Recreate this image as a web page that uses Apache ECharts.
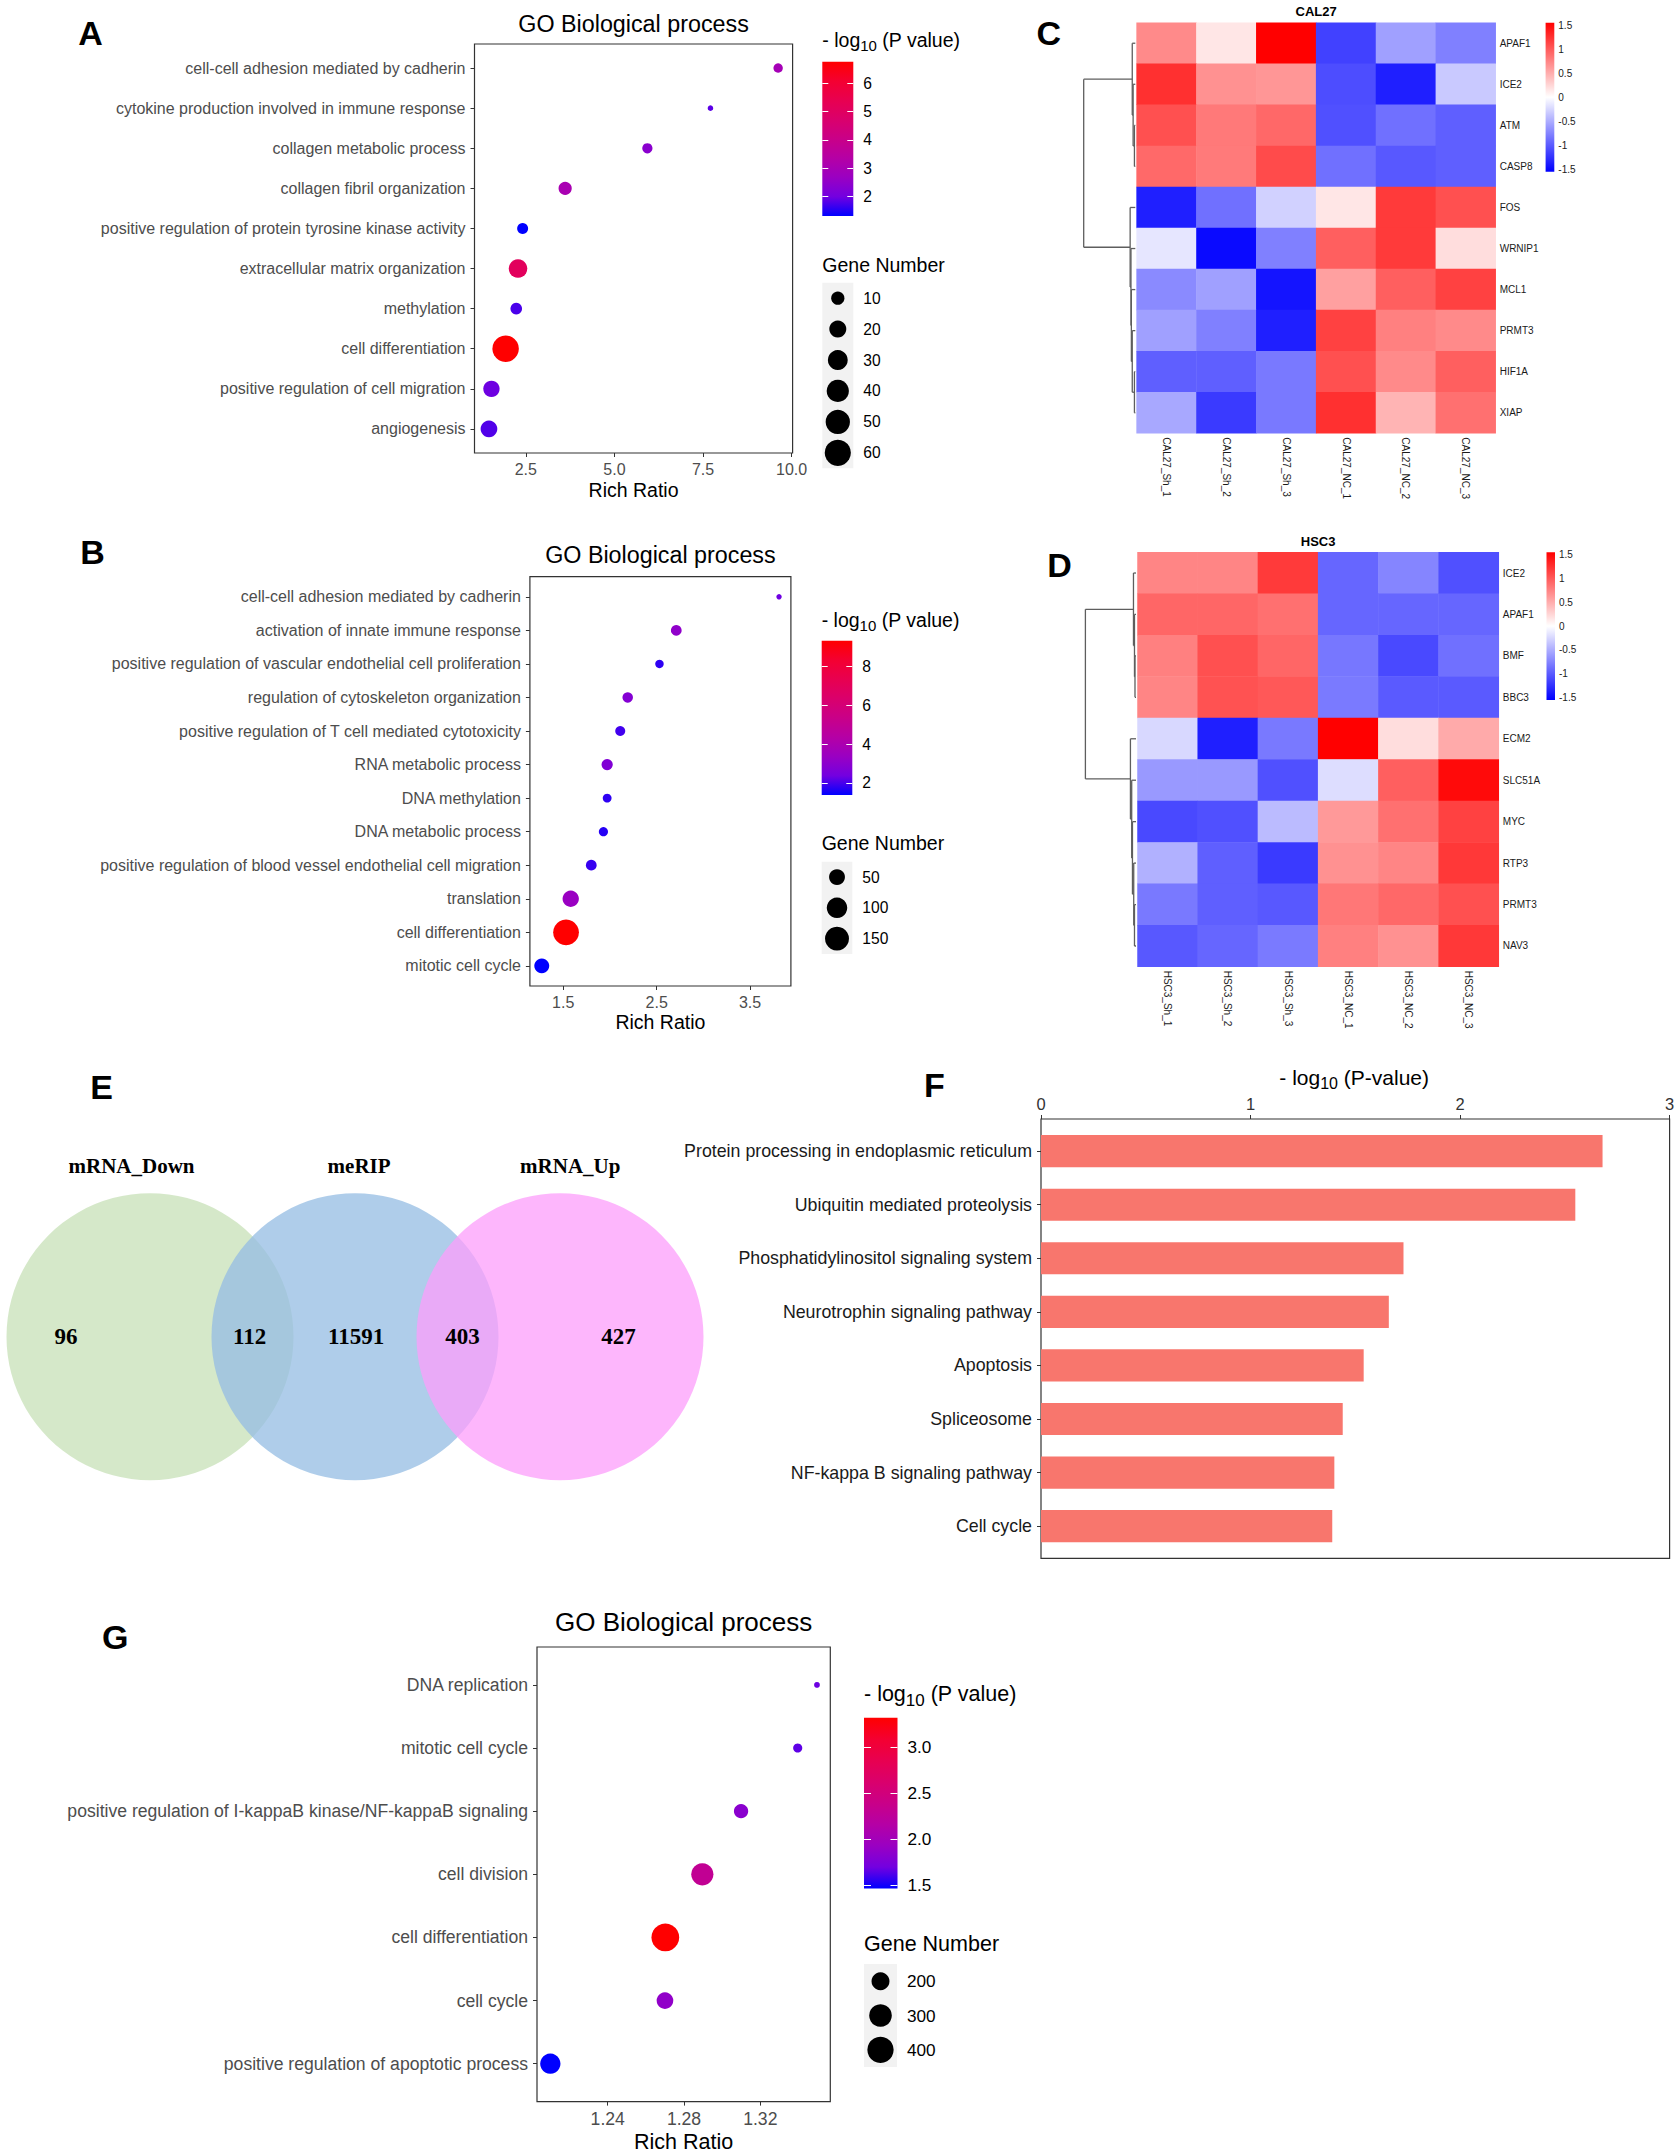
<!DOCTYPE html>
<html>
<head>
<meta charset="utf-8">
<title>GO / KEGG / heatmap figure</title>
<script src="https://cdn.jsdelivr.net/npm/echarts@6.0.0/dist/echarts.min.js"></script>
<style>
html,body{margin:0;padding:0;background:#ffffff;}
#chart{width:1680px;height:2156px;}
</style>
</head>
<body>
<div id="chart"></div>
<script>
// ================= DATA =================
// Panel A – GO Biological process
const aTerms = ['cell-cell adhesion mediated by cadherin','cytokine production involved in immune response','collagen metabolic process','collagen fibril organization','positive regulation of protein tyrosine kinase activity','extracellular matrix organization','methylation','cell differentiation','positive regulation of cell migration','angiogenesis'];
const aRichRatio = [9.62, 7.71, 5.93, 3.61, 2.41, 2.28, 2.23, 1.93, 1.53, 1.46];
const aLogP = [2.95, 1.86, 2.40, 3.06, 1.32, 5.10, 1.76, 6.76, 1.97, 1.80];
const aGeneNumber = [4, 2, 5, 10, 6, 25, 7, 62, 18, 19];
const aRatioTicks = [2.5, 5.0, 7.5, 10.0];
const aLogPTicks = [2, 3, 4, 5, 6];
const aGeneBreaks = [10, 20, 30, 40, 50, 60];

// Panel B – GO Biological process
const bTerms = ['cell-cell adhesion mediated by cadherin','activation of innate immune response','positive regulation of vascular endothelial cell proliferation','regulation of cytoskeleton organization','positive regulation of T cell mediated cytotoxicity','RNA metabolic process','DNA methylation','DNA metabolic process','positive regulation of blood vessel endothelial cell migration','translation','cell differentiation','mitotic cell cycle'];
const bRichRatio = [3.81, 2.71, 2.53, 2.19, 2.11, 1.97, 1.97, 1.93, 1.80, 1.58, 1.53, 1.27];
const bLogP = [2.33, 3.10, 1.77, 2.80, 1.93, 2.72, 1.77, 1.69, 1.85, 3.36, 9.34, 1.37];
const bGeneNumber = [3, 15, 7, 14, 12, 17, 8, 9, 15, 54, 180, 42];
const bRatioTicks = [1.5, 2.5, 3.5];
const bLogPTicks = [2, 4, 6, 8];
const bGeneBreaks = [50, 100, 150];

// Panel G – GO Biological process
const gTerms = ['DNA replication','mitotic cell cycle','positive regulation of I-kappaB kinase/NF-kappaB signaling','cell division','cell differentiation','cell cycle','positive regulation of apoptotic process'];
const gRichRatio = [1.3497, 1.3396, 1.3099, 1.2896, 1.2702, 1.2700, 1.2099];
const gLogP = [1.68, 1.65, 1.83, 2.30, 3.32, 1.87, 1.46];
const gGeneNumber = [91, 99, 144, 289, 446, 177, 246];
const gRatioTicks = [1.24, 1.28, 1.32];
const gLogPTicks = [1.5, 2.0, 2.5, 3.0];
const gGeneBreaks = [200, 300, 400];

// Panel C – CAL27 heatmap (row z-scores)
const cal27Genes = ['APAF1','ICE2','ATM','CASP8','FOS','WRNIP1','MCL1','PRMT3','HIF1A','XIAP'];
const cal27Samples = ['CAL27_Sh_1','CAL27_Sh_2','CAL27_Sh_3','CAL27_NC_1','CAL27_NC_2','CAL27_NC_3'];
const cal27Z = [
  [ 0.69,  0.15,  1.50, -1.12, -0.56, -0.75],
  [ 1.22,  0.65,  0.62, -1.05, -1.32, -0.32],
  [ 1.03,  0.79,  0.89, -1.03, -0.84, -0.94],
  [ 0.88,  0.78,  1.06, -0.84, -0.98, -0.94],
  [-1.32, -0.84, -0.27,  0.15,  1.16,  1.03],
  [-0.15, -1.44, -0.75,  0.94,  1.16,  0.20],
  [-0.69, -0.56, -1.38,  0.56,  0.94,  1.12],
  [-0.56, -0.75, -1.32,  1.12,  0.75,  0.69],
  [-0.94, -0.94, -0.79,  1.03,  0.69,  0.94],
  [-0.51, -1.16, -0.79,  1.22,  0.44,  0.84]
];
// hclust-style merges: negative = leaf (row), positive = earlier merge; third = height
const cal27Merges = [[-3,-4,0.017],[-2,1,0.042],[-1,2,0.059],[-9,-10,0.017],[-8,4,0.059],[-7,5,0.076],[-6,6,0.084],[-5,7,0.10],[3,8,1.0]];

// Panel D – HSC3 heatmap
const hsc3Genes = ['ICE2','APAF1','BMF','BBC3','ECM2','SLC51A','MYC','RTP3','PRMT3','NAV3'];
const hsc3Samples = ['HSC3_Sh_1','HSC3_Sh_2','HSC3_Sh_3','HSC3_NC_1','HSC3_NC_2','HSC3_NC_3'];
const hsc3Z = [
  [ 0.72,  0.72,  1.16, -0.90, -0.72, -1.03],
  [ 0.90,  0.90,  0.84, -0.90, -0.90, -0.90],
  [ 0.75,  1.03,  0.90, -0.80, -1.07, -0.84],
  [ 0.72,  1.02,  0.98, -0.78, -0.97, -0.97],
  [-0.23, -1.32, -0.79,  1.50,  0.20,  0.50],
  [-0.60, -0.60, -1.03, -0.20,  0.94,  1.44],
  [-1.07, -1.03, -0.40,  0.60,  0.84,  1.12],
  [-0.46, -0.94, -1.16,  0.65,  0.72,  1.17],
  [-0.79, -0.94, -0.98,  0.80,  0.89,  1.03],
  [-0.98, -0.90, -0.78,  0.75,  0.65,  1.17]
];
const hsc3Merges = [[-3,-4,0.02],[-2,1,0.03],[-1,2,0.05],[-9,-10,0.03],[-8,4,0.045],[-7,5,0.07],[-6,6,0.085],[-5,7,0.11],[3,8,1.0]];
const heatLegendTicks = [1.5, 1, 0.5, 0, -0.5, -1, -1.5];

// Panel E – Venn
const vennSets = ['mRNA_Down','meRIP','mRNA_Up'];
const vennRegions = ['mRNA_Down only','mRNA_Down & meRIP','meRIP only','meRIP & mRNA_Up','mRNA_Up only'];
const vennCounts = [96, 112, 11591, 403, 427];

// Panel F – KEGG
const fPathways = ['Protein processing in endoplasmic reticulum','Ubiquitin mediated proteolysis','Phosphatidylinositol signaling system','Neurotrophin signaling pathway','Apoptosis','Spliceosome','NF-kappa B signaling pathway','Cell cycle'];
const fLogP = [2.68, 2.55, 1.73, 1.66, 1.54, 1.44, 1.40, 1.39];
const fTicks = [0, 1, 2, 3];

// ================= STYLE / LAYOUT =================
const FONT = '"Liberation Sans", Arial, Helvetica, sans-serif';
const SERIF = '"Liberation Serif", "Times New Roman", serif';
const GG = ['#0000FF','#7300E0','#9A00C2','#B500A5','#C90088','#DA006C','#E80050','#F40031','#FF0000'];
const HEAT = ['#0000FF','#FFFFFF','#FF0000'];
const VENN = {
  cx: [0, 1, 2], r: 0.7,
  labelX: [-0.09, 1.02, 2.05], labelY: 0.833,
  countX: [-0.41, 0.486, 1.005, 1.524, 2.285],
  fill: ['rgba(199,224,183,0.75)','rgba(148,188,227,0.75)','rgba(252,158,251,0.75)']
};

const grids = [], xAxes = [], yAxes = [], series = [], visualMaps = [], graphics = [];
function addGrid(g){ grids.push(Object.assign({show:false, containLabel:false, outerBoundsMode:'none', borderWidth:0}, g)); return grids.length-1; }
function addX(a){ xAxes.push(a); return xAxes.length-1; }
function addY(a){ yAxes.push(a); return yAxes.length-1; }
function txt(x, y, t, fs, opt){
  graphics.push({type:'text', x:x, y:y, silent:true, z:100,
    style:Object.assign({text:t, fontSize:fs, fontFamily:FONT, fontWeight:'normal', fill:'#000', align:'center', verticalAlign:'middle'}, opt||{})});
}
function logTitle(x, y, fs, inner, align){
  graphics.push({type:'text', x:x, y:y, silent:true, z:100,
    style:{text:'{a|- log}{s|10}{a| (' + inner + ')}', align:align, verticalAlign:'middle',
      rich:{
        a:{fontSize:fs, fontFamily:FONT, fill:'#000', lineHeight:Math.round(fs*1.33), verticalAlign:'middle'},
        s:{fontSize:Math.round(fs*0.77), fontFamily:FONT, fill:'#000', lineHeight:Math.round(fs*0.77), verticalAlign:'bottom'}
      }}});
}
function gradV(colorsTopToBottom){
  return {type:'linear', x:0, y:0, x2:0, y2:1,
    colorStops: colorsTopToBottom.map((c,k,arr)=>({offset:k/(arr.length-1), color:c}))};
}
const noLine = {show:false, onZero:false};

// ---------- dot plot builder ----------
function dotPlot(o){
  const n = o.terms.length;
  const gi = addGrid({left:o.box[0], top:o.box[1], width:o.box[2]-o.box[0], height:o.box[3]-o.box[1],
    show:true, borderColor:'#333333', borderWidth:1.2, backgroundColor:'rgba(0,0,0,0)'});
  const lo = Math.min(...o.ratio), hi = Math.max(...o.ratio), pad = (hi-lo)*0.05;
  const xi = addX({type:'value', gridIndex:gi, position:'bottom', min:lo-pad, max:hi+pad, axisLine:noLine, splitLine:{show:false},
    axisTick:{show:true, length:4, lineStyle:{color:'#333333', width:1}, customValues:o.xTicks},
    axisLabel:{customValues:o.xTicks, formatter:v=>Number(v).toFixed(o.xDec), color:'#4D4D4D', fontSize:o.fs, fontFamily:FONT, margin:8}});
  const idx = o.terms.map((_,i)=>i);
  const yi = addY({type:'value', gridIndex:gi, position:'left', min:-0.6, max:n-0.4, inverse:true, axisLine:noLine, splitLine:{show:false},
    axisTick:{show:true, length:4, lineStyle:{color:'#333333', width:1}, customValues:idx},
    axisLabel:{customValues:idx, formatter:v=>o.terms[Math.round(v)], color:'#4D4D4D', fontSize:o.fs, fontFamily:FONT, margin:9}});
  const gMin = Math.min(...o.genes), gMax = Math.max(...o.genes);
  const size = g => o.s*(3.79 + 14.225*Math.sqrt(Math.max(0,(g-gMin)/(gMax-gMin))));
  const pMin = Math.min(...o.logP), pMax = Math.max(...o.logP);
  series.push({type:'scatter', xAxisIndex:xi, yAxisIndex:yi, silent:true, z:3,
    data:o.terms.map((t,i)=>[o.ratio[i], i, o.logP[i], o.genes[i]]),
    symbol:'circle', symbolSize:v=>size(v[3]), itemStyle:{opacity:1}});
  visualMaps.push({type:'continuous', show:false, seriesIndex:series.length-1, dimension:2, min:pMin, max:pMax, inRange:{color:GG}});

  // titles
  txt((o.box[0]+o.box[2])/2, o.titleY, 'GO Biological process', o.tfs);
  txt((o.box[0]+o.box[2])/2, o.xTitleY, 'Rich Ratio', o.afs);

  // colour bar
  const cb = o.cbar;
  const cgi = addGrid({left:cb[0], top:cb[1], width:cb[2], height:cb[3], show:true, borderWidth:0,
    backgroundColor:gradV(GG.slice().reverse())});
  addX({type:'value', gridIndex:cgi, min:0, max:1, show:false, axisLine:noLine});
  addY({type:'value', gridIndex:cgi, min:pMin, max:pMax, position:'right', axisLine:noLine, splitLine:{show:false},
    axisTick:{show:true, inside:true, length:Math.round(cb[2]*0.2), lineStyle:{color:'#FFFFFF', width:1}, customValues:o.pTicks},
    axisLabel:{customValues:o.pTicks, formatter:v=>Number(v).toFixed(o.pDec), color:'#000', fontSize:o.lfs, fontFamily:FONT, margin:10}});
  addY({type:'value', gridIndex:cgi, min:pMin, max:pMax, position:'left', axisLine:noLine, splitLine:{show:false},
    axisTick:{show:true, inside:true, length:Math.round(cb[2]*0.2), lineStyle:{color:'#FFFFFF', width:1}, customValues:o.pTicks},
    axisLabel:{show:false}});
  logTitle(cb[0], o.ltY[0], o.ltfs, 'P value', 'left');

  // size legend
  const sl = o.sleg;
  const sgi = addGrid({left:sl[0], top:sl[1], width:sl[2], height:sl[3], show:true, borderWidth:0, backgroundColor:'#F2F2F2'});
  const sxi = addX({type:'value', gridIndex:sgi, min:-1, max:1, show:false, axisLine:noLine});
  const syi = addY({type:'category', gridIndex:sgi, data:o.breaks.map(String), inverse:true, position:'right',
    axisLine:noLine, axisTick:{show:false}, splitLine:{show:false},
    axisLabel:{interval:0, color:'#000', fontSize:o.lfs, fontFamily:FONT, margin:10}});
  series.push({type:'scatter', xAxisIndex:sxi, yAxisIndex:syi, silent:true,
    data:o.breaks.map((b,i)=>[0, i, b]), symbol:'circle', symbolSize:v=>size(v[2]), itemStyle:{color:'#000', opacity:1}});
  txt(sl[0], o.ltY[1], 'Gene Number', o.ltfs, {align:'left'});
}

dotPlot({terms:aTerms, ratio:aRichRatio, logP:aLogP, genes:aGeneNumber, xTicks:aRatioTicks, xDec:1, pTicks:aLogPTicks, pDec:0, breaks:aGeneBreaks,
  box:[474.5, 44, 792.6, 453], titleY:23.5, xTitleY:490, fs:16, tfs:23.3, afs:19.5, lfs:15.6, ltfs:19.5, s:1.47,
  cbar:[822.3, 61.7, 31, 154.3], sleg:[822.3, 282.7, 31, 185.6], ltY:[40, 265]});
dotPlot({terms:bTerms, ratio:bRichRatio, logP:bLogP, genes:bGeneNumber, xTicks:bRatioTicks, xDec:1, pTicks:bLogPTicks, pDec:0, breaks:bGeneBreaks,
  box:[529.9, 576.7, 790.9, 986], titleY:555, xTitleY:1021.7, fs:16, tfs:23.3, afs:19.5, lfs:15.6, ltfs:19.5, s:1.43,
  cbar:[821.7, 640.7, 30.6, 154.3], sleg:[821.7, 861.7, 30.6, 92.3], ltY:[620, 843.3]});
dotPlot({terms:gTerms, ratio:gRichRatio, logP:gLogP, genes:gGeneNumber, xTicks:gRatioTicks, xDec:2, pTicks:gLogPTicks, pDec:1, breaks:gGeneBreaks,
  box:[537, 1647, 830.3, 2101.6], titleY:1622, xTitleY:2142, fs:17.6, tfs:26, afs:21.5, lfs:17.2, ltfs:21.5, s:1.54,
  cbar:[864, 1717.7, 33.5, 170.8], sleg:[864, 1964, 33, 103], ltY:[1694, 1943.6]});

// ---------- heatmap builder ----------
function dendroSegs(merges){
  const nodes = [], segs = [];
  const get = r => r < 0 ? {y:-r-1+0.5, h:0} : nodes[r-1];
  merges.forEach(m => {
    const A = get(m[0]), B = get(m[1]), h = m[2];
    segs.push([A.h, A.y, h, A.y], [B.h, B.y, h, B.y], [h, A.y, h, B.y]);
    nodes.push({y:(A.y+B.y)/2, h:h});
  });
  return segs;
}
function heatmapPanel(o){
  const gi = addGrid({left:o.box[0], top:o.box[1], width:o.box[2]-o.box[0], height:o.box[3]-o.box[1]});
  const xi = addX({type:'category', gridIndex:gi, data:o.samples, position:'bottom', axisLine:noLine, axisTick:{show:false}, splitLine:{show:false},
    axisLabel:{interval:0, rotate:-90, fontSize:10, fontFamily:FONT, color:'#1A1A1A', margin:4}});
  const yi = addY({type:'category', gridIndex:gi, data:o.genes, inverse:true, position:'right', axisLine:noLine, axisTick:{show:false}, splitLine:{show:false},
    axisLabel:{interval:0, fontSize:10, fontFamily:FONT, color:'#1A1A1A', margin:4}});
  const data = [];
  o.z.forEach((row, r) => row.forEach((v, c) => data.push([c, r, v])));
  series.push({type:'heatmap', xAxisIndex:xi, yAxisIndex:yi, data:data, silent:true, emphasis:{disabled:true}, itemStyle:{borderWidth:0}});
  visualMaps.push({type:'continuous', show:false, seriesIndex:series.length-1, dimension:2, min:-1.5, max:1.5, inRange:{color:HEAT}});

  // dendrogram
  const dgi = addGrid({left:o.dbox[0], top:o.box[1], width:o.dbox[1]-o.dbox[0], height:o.box[3]-o.box[1]});
  const rootH = Math.max(...o.merges.map(m=>m[2]));
  const dxi = addX({type:'value', gridIndex:dgi, min:0, max:rootH, inverse:true, show:false, axisLine:noLine});
  const dyi = addY({type:'value', gridIndex:dgi, min:0, max:o.genes.length, inverse:true, show:false, axisLine:noLine});
  series.push({type:'custom', xAxisIndex:dxi, yAxisIndex:dyi, silent:true, clip:false, encode:{x:[0,2], y:[1,3]},
    data:dendroSegs(o.merges),
    renderItem:(p, api) => {
      const p1 = api.coord([api.value(0), api.value(1)]), p2 = api.coord([api.value(2), api.value(3)]);
      return {type:'line', shape:{x1:p1[0], y1:p1[1], x2:p2[0], y2:p2[1]}, style:{stroke:'#5E5E5E', lineWidth:1.3}};
    }});

  // colour legend
  const cb = o.cbar;
  const cgi = addGrid({left:cb[0], top:cb[1], width:cb[2], height:cb[3], show:true, borderWidth:0, backgroundColor:gradV(HEAT.slice().reverse())});
  addX({type:'value', gridIndex:cgi, min:0, max:1, show:false, axisLine:noLine});
  addY({type:'value', gridIndex:cgi, min:-1.55, max:1.55, position:'right', axisLine:noLine, splitLine:{show:false}, axisTick:{show:false},
    axisLabel:{customValues:heatLegendTicks, fontSize:10, fontFamily:FONT, color:'#1A1A1A', margin:4}});

  txt((o.box[0]+o.box[2])/2, o.titleY, o.title, 13, {fontWeight:'bold'});
}
heatmapPanel({title:'CAL27', genes:cal27Genes, samples:cal27Samples, z:cal27Z, merges:cal27Merges,
  box:[1136.6, 22.7, 1495.7, 433.3], dbox:[1083.7, 1135.3], cbar:[1545.6, 22.7, 8.7, 149], titleY:11});
heatmapPanel({title:'HSC3', genes:hsc3Genes, samples:hsc3Samples, z:hsc3Z, merges:hsc3Merges,
  box:[1137.5, 552.3, 1498.8, 966.7], dbox:[1085.4, 1136], cbar:[1546.5, 552.3, 8.5, 147.7], titleY:541});

// ---------- Venn (E) ----------
(function(){
  const vgi = addGrid({left:6.5, top:1131.7, width:717.5, height:410});
  const vxi = addX({type:'value', gridIndex:vgi, min:-0.7, max:2.8, show:false, axisLine:noLine});
  const vyi = addY({type:'value', gridIndex:vgi, min:-1, max:1, show:false, axisLine:noLine});
  series.push({type:'custom', xAxisIndex:vxi, yAxisIndex:vyi, silent:true, clip:false, z:2,
    data:vennSets.map((s,i)=>[VENN.cx[i], 0, i]),
    renderItem:(p, api) => {
      const c = api.coord([api.value(0), api.value(1)]);
      const r = Math.abs(api.size([VENN.r, 0])[0]);
      return {type:'circle', shape:{cx:c[0], cy:c[1], r:r}, style:{fill:VENN.fill[api.value(2)]}};
    }});
  series.push({type:'custom', xAxisIndex:vxi, yAxisIndex:vyi, silent:true, clip:false, z:4,
    data:vennSets.map((s,i)=>[VENN.labelX[i], VENN.labelY, i]),
    renderItem:(p, api) => {
      const c = api.coord([api.value(0), api.value(1)]);
      return {type:'text', x:c[0], y:c[1], style:{text:vennSets[api.value(2)], fontSize:21, fontFamily:SERIF, fontWeight:'bold', fill:'#000', align:'center', verticalAlign:'middle'}};
    }});
  series.push({type:'custom', xAxisIndex:vxi, yAxisIndex:vyi, silent:true, clip:false, z:4,
    data:vennCounts.map((c,i)=>[VENN.countX[i], 0, c]),
    renderItem:(p, api) => {
      const c = api.coord([api.value(0), api.value(1)]);
      return {type:'text', x:c[0], y:c[1], style:{text:String(api.value(2)), fontSize:23, fontFamily:SERIF, fontWeight:'bold', fill:'#000', align:'center', verticalAlign:'middle'}};
    }});
})();

// ---------- KEGG bars (F) ----------
(function(){
  const fgi = addGrid({left:1041, top:1119, width:628.6, height:439.3, show:true, borderColor:'#333333', borderWidth:1.2, backgroundColor:'rgba(0,0,0,0)'});
  const fxi = addX({type:'value', gridIndex:fgi, position:'top', min:0, max:3, interval:1, axisLine:noLine, splitLine:{show:false},
    axisTick:{show:true, length:4, lineStyle:{color:'#333333', width:1}, customValues:fTicks},
    axisLabel:{customValues:fTicks, fontSize:16.5, fontFamily:FONT, color:'#333333', margin:7}});
  const idx = fPathways.map((_,i)=>i);
  const fyi = addY({type:'value', gridIndex:fgi, position:'left', min:-0.6, max:fPathways.length-0.4, inverse:true, axisLine:noLine, splitLine:{show:false},
    axisTick:{show:true, length:4, lineStyle:{color:'#333333', width:1}, customValues:idx},
    axisLabel:{customValues:idx, formatter:v=>fPathways[Math.round(v)], fontSize:17.8, fontFamily:FONT, color:'#1A1A1A', margin:9}});
  series.push({type:'custom', xAxisIndex:fxi, yAxisIndex:fyi, silent:true, encode:{x:0, y:1},
    data:fLogP.map((v,i)=>[v, i]),
    renderItem:(p, api) => {
      const a = api.coord([0, api.value(1)]), b = api.coord([api.value(0), api.value(1)]);
      const h = Math.abs(api.size([0, 0.6])[1]);
      return {type:'rect', shape:{x:a[0], y:a[1]-h/2, width:b[0]-a[0], height:h}, style:{fill:'#F8766D'}};
    }});
  logTitle(1354.2, 1077.3, 21, 'P-value', 'center');
})();

// ---------- panel letters ----------
[['A',90.5,32.5],['B',92.5,551.7],['C',1048.8,33.3],['D',1059.6,564.5],['E',101.5,1086.7],['F',934.5,1085],['G',115.3,1637]]
  .forEach(l => txt(l[1], l[2], l[0], 34, {fontWeight:'bold'}));

const chart = echarts.init(document.getElementById('chart'), null, {renderer:'svg', width:1680, height:2156});
chart.setOption({
  animation:false,
  backgroundColor:'#ffffff',
  grid:grids, xAxis:xAxes, yAxis:yAxes, series:series, visualMap:visualMaps,
  graphic:graphics
});
</script>
</body>
</html>
